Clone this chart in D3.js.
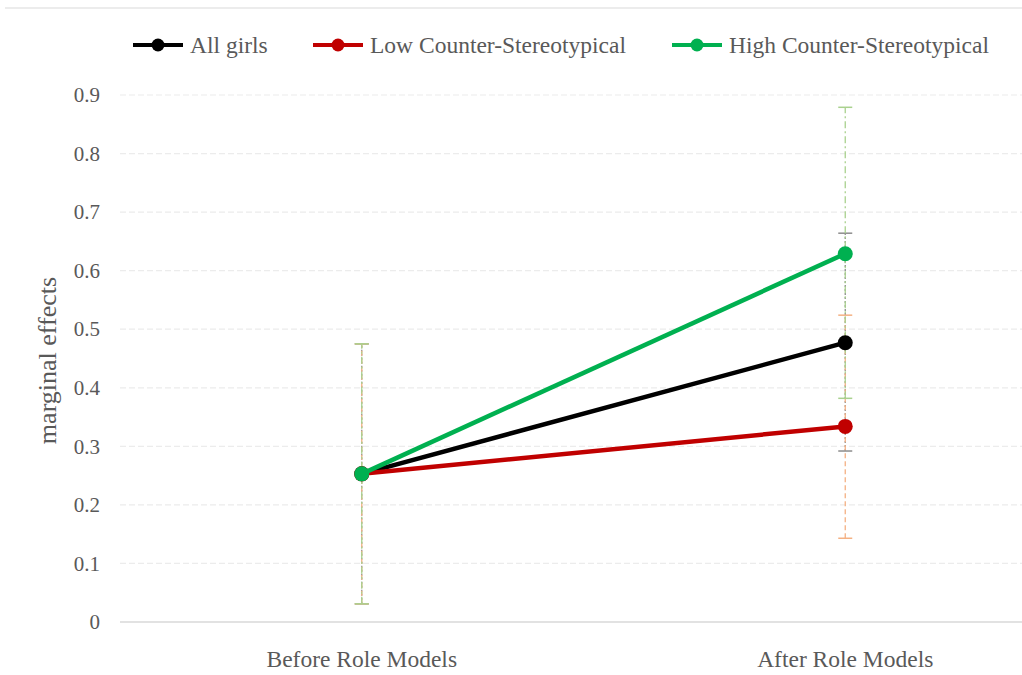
<!DOCTYPE html>
<html>
<head>
<meta charset="utf-8">
<script src="https://cdn.jsdelivr.net/npm/d3@7"></script>
<style>
  html, body { margin: 0; padding: 0; background: #fff; }
  svg { display: block; }
  text { font-family: "Liberation Serif", "Times New Roman", serif; fill: #595959; }
</style>
</head>
<body>
<svg id="chart" width="1022" height="675"></svg>
<script>
// Periods on the x axis
const periods = ["Before Role Models", "After Role Models"];

// Series names and colours
const seriesNames = ["All girls", "Low Counter-Stereotypical", "High Counter-Stereotypical"];
const seriesColors = ["#000000", "#C00000", "#00B050"];
const errorColors = ["#8c8c8c", "#F4B183", "#A9D18E"];
const errorDash = ["2,2", "5,3", "7,3,2,3"];

// Marginal effects per series (before, after)
const allGirls = [0.253, 0.477];
const lowCS = [0.253, 0.334];
const highCS = [0.253, 0.629];

// Confidence interval bounds per series (before, after)
const allGirlsLow = [0.031, 0.292];
const allGirlsHigh = [0.475, 0.664];
const lowCSLow = [0.031, 0.143];
const lowCSHigh = [0.475, 0.524];
const highCSLow = [0.031, 0.382];
const highCSHigh = [0.475, 0.879];

// Y axis ticks
const yTicks = [0, 0.1, 0.2, 0.3, 0.4, 0.5, 0.6, 0.7, 0.8, 0.9];

const series = [
  { name: seriesNames[0], values: allGirls, lo: allGirlsLow, hi: allGirlsHigh },
  { name: seriesNames[1], values: lowCS, lo: lowCSLow, hi: lowCSHigh },
  { name: seriesNames[2], values: highCS, lo: highCSLow, hi: highCSHigh }
];

const svg = d3.select("#chart");
const W = 1022, H = 675;
const plot = { left: 120, right: 1087, top: 95, bottom: 622 };

// frame line along the top
svg.append("line")
  .attr("x1", 5).attr("x2", W).attr("y1", 8).attr("y2", 8)
  .attr("stroke", "#ececec").attr("stroke-width", 2);

const x = d3.scaleBand().domain(periods).range([plot.left, plot.right]);
const cx = d => x(d) + x.bandwidth() / 2;
const y = d3.scaleLinear().domain([0, 0.9]).range([plot.bottom, plot.top]);

// horizontal gridlines
const grid = svg.append("g");
grid.selectAll("line")
  .data(yTicks.filter(t => t > 0))
  .join("line")
  .attr("x1", plot.left).attr("x2", W)
  .attr("y1", d => y(d)).attr("y2", d => y(d))
  .attr("stroke", "#ececec").attr("stroke-width", 1.2)
  .attr("stroke-dasharray", "6,3");

// y axis labels
const yAxis = svg.append("g")
  .attr("transform", `translate(${plot.left},0)`)
  .call(d3.axisLeft(y).tickValues(yTicks).tickSize(0).tickPadding(20)
    .tickFormat(d => d === 0 ? "0" : d3.format(".1f")(d)));
yAxis.select(".domain").remove();
yAxis.selectAll("text")
  .style("font-family", '"Liberation Serif", serif')
  .style("font-size", "21px").attr("fill", "#595959");

// x axis baseline and labels
const xAxis = svg.append("g")
  .attr("transform", `translate(0,${plot.bottom})`)
  .call(d3.axisBottom(x).tickSize(0).tickPadding(28));
xAxis.select(".domain")
  .attr("d", `M${plot.left},0H${W}`)
  .attr("stroke", "#d9d9d9").attr("stroke-width", 1.5);
xAxis.selectAll("text")
  .style("font-family", '"Liberation Serif", serif')
  .style("font-size", "23.5px").attr("fill", "#595959");

// y axis title
svg.append("text")
  .attr("transform", `translate(56,${(plot.top + plot.bottom) / 2 + 2}) rotate(-90)`)
  .attr("text-anchor", "middle")
  .style("font-size", "26px")
  .text("marginal effects");

// error bars
const bars = svg.append("g");
series.forEach((s, i) => {
  periods.forEach((p, j) => {
    const g = bars.append("g");
    const px = cx(p);
    g.append("line")
      .attr("x1", px).attr("x2", px)
      .attr("y1", y(s.lo[j])).attr("y2", y(s.hi[j]))
      .attr("stroke", errorColors[i]).attr("stroke-width", 1.3)
      .attr("stroke-dasharray", errorDash[i]);
    [s.lo[j], s.hi[j]].forEach(v => {
      g.append("line")
        .attr("x1", px - 7).attr("x2", px + 7)
        .attr("y1", y(v)).attr("y2", y(v))
        .attr("stroke", errorColors[i]).attr("stroke-width", 1.5);
    });
  });
});

// series lines and markers
const line = d3.line().x((d, j) => cx(periods[j])).y(d => y(d));
series.forEach((s, i) => {
  svg.append("path")
    .datum(s.values)
    .attr("d", line)
    .attr("fill", "none")
    .attr("stroke", seriesColors[i]).attr("stroke-width", 4.5);
  svg.append("g").selectAll("circle")
    .data(s.values)
    .join("circle")
    .attr("cx", (d, j) => cx(periods[j]))
    .attr("cy", d => y(d))
    .attr("r", 7.5)
    .attr("fill", seriesColors[i]);
});

// legend
const legendX = [133, 313, 672];
const legend = svg.append("g");
series.forEach((s, i) => {
  const g = legend.append("g").attr("transform", `translate(${legendX[i]},45)`);
  g.append("line").attr("x1", 0).attr("x2", 50).attr("y1", 0).attr("y2", 0)
    .attr("stroke", seriesColors[i]).attr("stroke-width", 4);
  g.append("circle").attr("cx", 25).attr("cy", 0).attr("r", 6.5).attr("fill", seriesColors[i]);
  g.append("text").attr("x", 57).attr("y", 8)
    .style("font-size", "23.5px")
    .text(s.name);
});
</script>
</body>
</html>
